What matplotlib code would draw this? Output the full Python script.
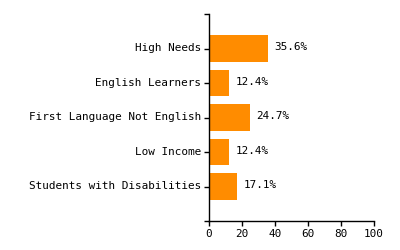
import matplotlib
matplotlib.use("Agg")
import matplotlib.pyplot as plt
import matplotlib.transforms as mtransforms

categories = ["High Needs", "English Learners", "First Language Not English",
              "Low Income", "Students with Disabilities"]
values = [35.6, 12.4, 24.7, 12.4, 17.1]
value_labels = ["35.6%", "12.4%", "24.7%", "12.4%", "17.1%"]
x_ticks = [0, 20, 40, 60, 80, 100]

plt.rcParams['font.family'] = ['DejaVu Sans Mono']
fs = 7.9

fig = plt.figure(figsize=(4, 2.5), dpi=100)
ax = fig.add_axes([209/400, 1-221/250, (374-209)/400, (221-14)/250])

pos = list(range(len(categories)))
ax.barh(pos, values, height=0.77, color="#FF8C00")
for p, v, lab in zip(pos, values, value_labels):
    ax.annotate(lab, (v, p), xytext=(4.5, 1), textcoords="offset points",
                va="center", ha="left", fontsize=fs, color="black")

ax.set_xlim(0, 100)
ax.set_ylim(len(categories), -1)
ax.set_yticks([-1] + pos + [len(categories)])
ax.set_yticklabels([""] + categories + [""], fontsize=fs)
ax.set_xticks(x_ticks)
ax.set_xticklabels([str(t) for t in x_ticks], fontsize=fs)
ax.tick_params(axis="both", length=3.5, width=1, color="black", pad=2)
offset = mtransforms.ScaledTranslation(0, 1.5/100, fig.dpi_scale_trans)
for lbl in ax.get_yticklabels():
    lbl.set_transform(lbl.get_transform() + offset)
for s in ["top", "right"]:
    ax.spines[s].set_visible(False)
for s in ["left", "bottom"]:
    ax.spines[s].set_linewidth(1)
ax.spines["bottom"].set_bounds(0, 100)

fig.savefig("out.png", dpi=100)
